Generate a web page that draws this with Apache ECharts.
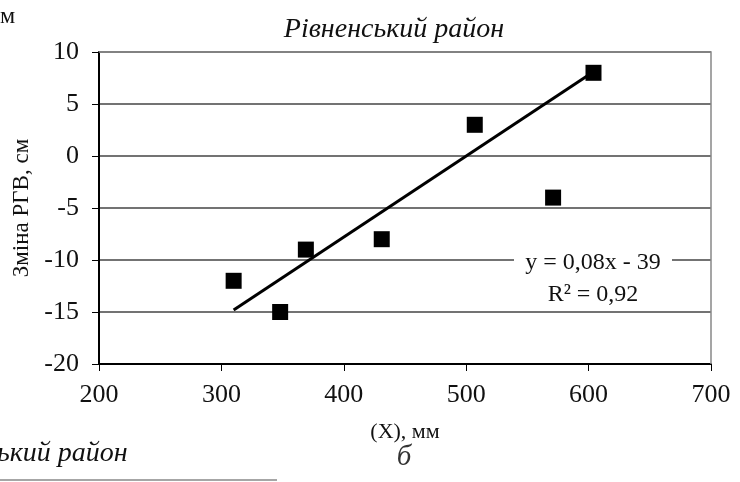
<!DOCTYPE html>
<html>
<head>
<meta charset="utf-8">
<script src="https://cdn.jsdelivr.net/npm/echarts@6/dist/echarts.min.js"></script>
<style>
  html, body { margin: 0; padding: 0; background: #fff; }
  #chart { width: 740px; height: 482px; }
</style>
</head>
<body>
<div id="chart"></div>
<script>
// опади (X), мм та зміна РГВ, см
const precipX = [310, 348, 369, 431, 507, 571, 604];
const levelChange = [-12, -15, -9, -8, 3, -4, 8];
// кінці лінії тренду
const trendX = [310, 604];
const trendY = [-14.8, 8.1];
const yTicks = [-20, -15, -10, -5, 0, 5, 10];

const font = '"Liberation Serif", "DejaVu Serif", serif';

const chart = echarts.init(document.getElementById('chart'));

chart.setOption({
  animation: false,
  textStyle: { fontFamily: font },
  title: {
    text: 'Рівненський район',
    left: 389,
    top: 11,
    textAlign: 'center',
    textStyle: { fontFamily: font, fontStyle: 'italic', fontWeight: 'normal', fontSize: 28, color: '#111' }
  },
  grid: { left: 99, right: 29, top: 52, bottom: 118 },
  xAxis: {
    type: 'value',
    min: 200,
    max: 700,
    interval: 100,
    name: '(X), мм',
    nameLocation: 'middle',
    nameGap: 57,
    nameTextStyle: { fontFamily: font, fontSize: 22, color: '#111' },
    axisLine: { onZero: false, lineStyle: { color: '#000', width: 2 } },
    axisTick: { show: true, length: 7, inside: false, lineStyle: { color: '#000', width: 1 } },
    axisLabel: { fontFamily: font, fontSize: 26, color: '#111', margin: 18 },
    splitLine: { show: false }
  },
  yAxis: {
    type: 'value',
    min: yTicks[0],
    max: yTicks[yTicks.length - 1],
    interval: 5,
    name: 'Зміна РГВ, см',
    nameLocation: 'middle',
    nameGap: 60,
    nameRotate: 90,
    nameTextStyle: { fontFamily: font, fontSize: 23, color: '#111' },
    axisLine: { onZero: false, lineStyle: { color: '#000', width: 2 } },
    axisTick: { show: true, length: 7, lineStyle: { color: '#000', width: 1 } },
    axisLabel: { fontFamily: font, fontSize: 26, color: '#111', margin: 20 },
    splitLine: { show: true, lineStyle: { color: '#444', width: 1.5 } }
  },
  graphic: [
    // рамка області побудови (верх і право)
    { type: 'polyline', shape: { points: [[99, 52], [711, 52], [711, 364]] }, style: { stroke: '#888', lineWidth: 1.5, fill: null }, z: 1 },
    { type: 'rect', shape: { x: 514, y: 248, width: 158, height: 62 }, style: { fill: '#fff' }, z: 90 },
    {
      type: 'text', x: 593, y: 263, z: 100,
      style: { text: 'y = 0,08x - 39', align: 'center', verticalAlign: 'middle', font: '24px ' + font, fill: '#111' }
    },
    {
      type: 'text', x: 593, y: 295, z: 100,
      style: { text: 'R² = 0,92', align: 'center', verticalAlign: 'middle', font: '24px ' + font, fill: '#111' }
    },
    { type: 'text', left: 0, top: 5, style: { text: 'м', font: '24px ' + font, fill: '#111' } },
    { type: 'text', left: -3, top: 440, style: { text: 'ький район', font: 'italic 28px ' + font, fill: '#111' } },
    { type: 'text', x: 404, y: 457, style: { text: 'б', align: 'center', verticalAlign: 'middle', font: 'italic 29px ' + font, fill: '#333' } },
    { type: 'line', shape: { x1: 0, y1: 480, x2: 277, y2: 480 }, style: { stroke: '#888', lineWidth: 1.5 } }
  ],
  series: [
    {
      type: 'line',
      data: trendX.map((x, i) => [x, trendY[i]]),
      symbol: 'none',
      lineStyle: { color: '#000', width: 3 },
      z: 3
    },
    {
      type: 'scatter',
      data: precipX.map((x, i) => [x, levelChange[i]]),
      symbol: 'rect',
      symbolSize: 16,
      itemStyle: { color: '#000', opacity: 1 },
      z: 4
    }
  ]
});
</script>
</body>
</html>
